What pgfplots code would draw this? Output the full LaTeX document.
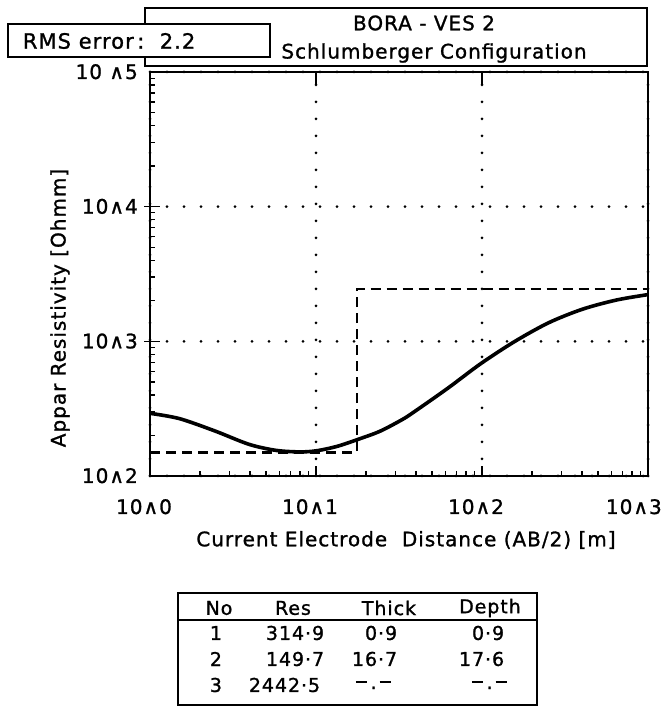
\documentclass[border=0pt]{standalone}
\usepackage{fontspec}
\setmainfont[LetterSpace=5, FakeBold=1.2]{DejaVu Sans}
\usepackage{pgfplots}
\pgfplotsset{compat=1.18}
\newcommand{\nodash}{\rule[0.32em]{0.6em}{2pt}\,.\,\rule[0.32em]{0.6em}{2pt}}
\begin{document}
\fontsize{20}{23}\selectfont
\begin{tikzpicture}[x=1pt,y=1pt]
\path[use as bounding box] (0,0) rectangle (664,707);
% title box
\draw[line width=1.5pt] (145,641) rectangle (647,699);
\node at (424,684) {BORA - VES 2};
\node at (434,654) {Schlumberger Configuration};
\draw[line width=1.5pt, fill=white] (8,650) rectangle (270,683);
\node[anchor=west] at (16,666) {\fontsize{21}{24}\selectfont RMS\ error\,:\ \ 2.2};

\begin{axis}[at={(150pt,231pt)}, anchor=south west, scale only axis,
  width=498pt, height=404pt,
  xmode=log, ymode=log, xmin=1, xmax=1000, ymin=100, ymax=100000,
  xtick={1,10,100,1000}, xticklabels={10∧0,10∧1,10∧2,},
  ytick={100,1000,10000,100000}, yticklabels={10∧2,10∧3,10∧4,10 ∧5},
  xtick pos=left, ytick pos=left, tick align=inside,
  major tick length=10pt, minor tick length=5pt,
  every tick/.style={black, line width=1.3pt},
  axis line style={line width=1.7pt},
  xmajorgrids, ymajorgrids,
  major grid style={black, line width=3pt, line cap=round, dash pattern=on 0pt off 17pt},
  xticklabel style={anchor=base, yshift=-38pt, xshift=-6pt},
  yticklabel style={anchor=base east, inner sep=0pt, xshift=-12pt, yshift=-7pt},
  clip=false]
\addplot[black, line width=3.6pt, smooth, tension=0.5] coordinates {
 (1,292) (1.5,267) (2.46,216) (3.94,172) (5.74,155) (8.0,151) (10.1,154)
 (13.4,166) (17.9,187) (24.3,215) (33,262) (38.8,298) (62,447) (99,687)
 (158,1000) (253,1377) (404,1734) (646,2027) (1000,2223)};
\addplot[black, line width=2.4pt, dash pattern=on 10pt off 6pt] coordinates {
 (1,149.7) (17.6,149.7) (17.6,2442.5) (1000,2442.5)};
\draw[line width=1.3pt] (axis cs:10,100000) -- ([yshift=-13pt]axis cs:10,100000);
\draw[line width=1.3pt] (axis cs:100,100000) -- ([yshift=-13pt]axis cs:100,100000);
\draw[line width=1.3pt] (axis cs:1,1000) -- ([xshift=-6pt]axis cs:1,1000);
\draw[line width=1.3pt] (axis cs:1,10000) -- ([xshift=-6pt]axis cs:1,10000);
\end{axis}
\node[anchor=base east, inner sep=0pt] at (662,193) {10∧3};

\node[rotate=90] at (60,399) {Appar Resistivity [Ohmm]};
\node at (406,167) {Current Electrode\ \ Distance (AB/2) [m]};

% table
\begin{scope}[every node/.style={font=\fontsize{19}{22}\selectfont}]
\draw[line width=1.5pt] (178,2) rectangle (537,114);
\draw[line width=1.5pt] (178,87) -- (537,87);
\node at (219,99) {No};
\node at (293,99) {Res};
\node at (389,99) {Thick};
\node at (490,99) {Depth};
\node[anchor=west] at (203,74) {1};
\node[anchor=west] at (203,48) {2};
\node[anchor=west] at (203,22) {3};
\node[anchor=east] at (331,74) {314·9};
\node[anchor=east] at (331,48) {149·7};
\node[anchor=east] at (327,22) {2442·5};
\node[anchor=east] at (404,74) {0·9};
\node[anchor=east] at (404,48) {16·7};
\node[anchor=east] at (398,22) {\nodash};
\node[anchor=east] at (511,74) {0·9};
\node[anchor=east] at (511,48) {17·6};
\node[anchor=east] at (514,22) {\nodash};
\end{scope}
\end{tikzpicture}
\end{document}
